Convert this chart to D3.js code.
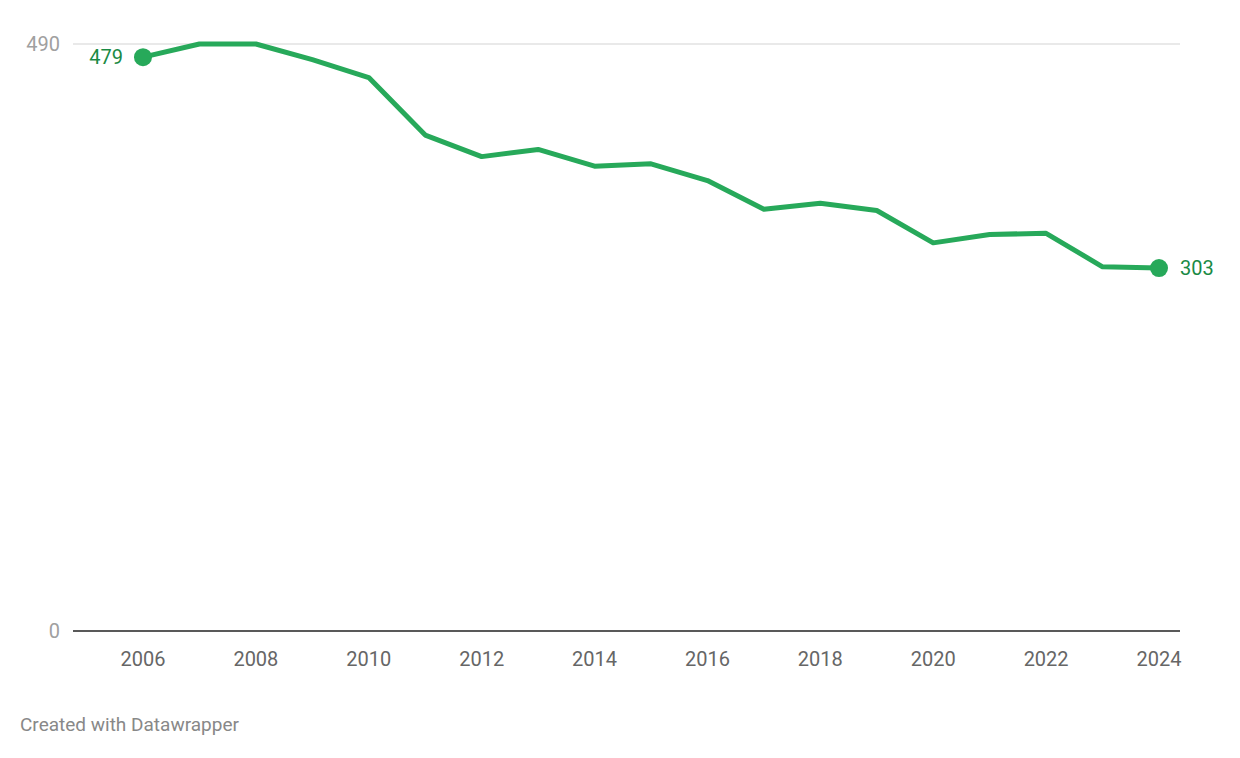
<!DOCTYPE html>
<html><head><meta charset="utf-8">
<script src="https://cdn.jsdelivr.net/npm/d3@7"></script>
<style>body{margin:0;background:#fff;font-family:Roboto,sans-serif}</style>
</head><body><svg id="c" width="1240" height="758"></svg>
<script>
const years = [2006,2007,2008,2009,2010,2011,2012,2013,2014,2015,2016,2017,2018,2019,2020,2021,2022,2023,2024];
const values = [479,490,490,477,462,414,396,402,388,390,376,352,357,351,324,331,332,304,303];
const yTicks = [0,490];
const xTicks = [2006,2008,2010,2012,2014,2016,2018,2020,2022,2024];

const svg = d3.select('#c');
const x = d3.scaleLinear().domain([2006,2024]).range([143,1159]);
const y = d3.scaleLinear().domain([0,490]).range([631,44]);
const green = '#27a95a';

svg.selectAll('.grid').data(yTicks.filter(d => d > 0)).enter().append('line')
  .attr('x1',73).attr('x2',1180).attr('y1',d=>y(d)).attr('y2',d=>y(d))
  .attr('stroke','#e2e2e2').attr('stroke-width',1.5);
svg.selectAll('.yl').data(yTicks).enter().append('text')
  .attr('x',60).attr('y',d=>y(d)+7).attr('text-anchor','end')
  .attr('font-size',20).attr('fill','#a0a0a0').text(d=>d);
svg.append('line').attr('x1',73).attr('x2',1180).attr('y1',y(0)).attr('y2',y(0))
  .attr('stroke','#222').attr('stroke-width',1.5);
svg.selectAll('.xl').data(xTicks).enter().append('text')
  .attr('x',d=>x(d)).attr('y',666).attr('text-anchor','middle')
  .attr('font-size',20).attr('fill','#666').text(d=>d);

const data = years.map((d,i)=>({year:d,value:values[i]}));
svg.append('path').datum(data)
  .attr('d',d3.line().x(d=>x(d.year)).y(d=>y(d.value)))
  .attr('fill','none').attr('stroke',green).attr('stroke-width',5).attr('stroke-linejoin','round');

const ends = [data[0], data[data.length-1]];
svg.selectAll('.dot').data(ends).enter().append('circle')
  .attr('cx',d=>x(d.year)).attr('cy',d=>y(d.value)).attr('r',9).attr('fill',green);
svg.append('text').attr('x',x(ends[0].year)-20).attr('y',y(ends[0].value)+7)
  .attr('text-anchor','end').attr('font-size',20).attr('fill','#1a8a45').text(ends[0].value);
svg.append('text').attr('x',x(ends[1].year)+21).attr('y',y(ends[1].value)+7)
  .attr('font-size',20).attr('fill','#1a8a45').text(ends[1].value);

svg.append('text').attr('x',20).attr('y',731).attr('font-size',19).attr('fill','#888')
  .text('Created with Datawrapper');
</script></body></html>
